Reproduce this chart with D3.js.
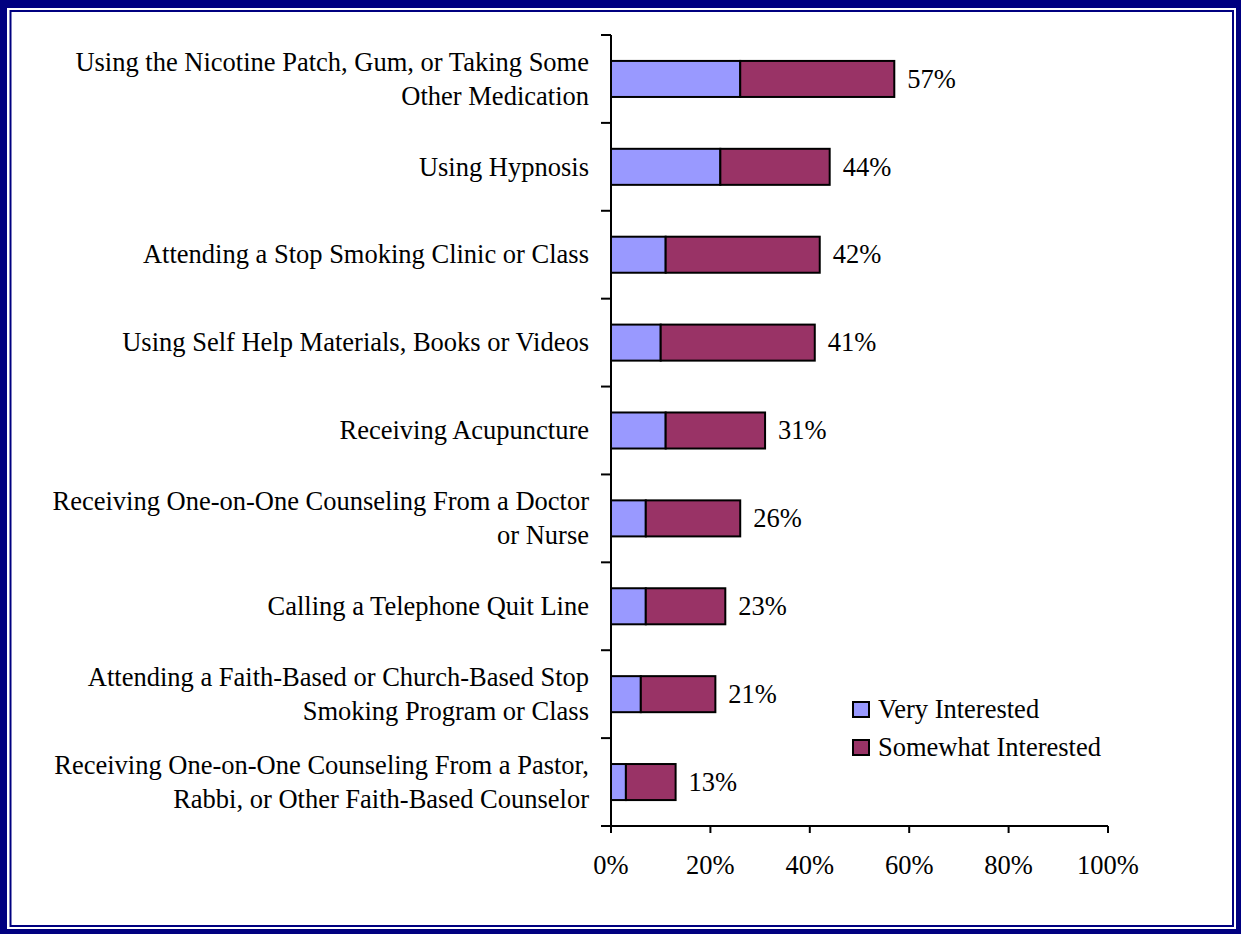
<!DOCTYPE html>
<html>
<head>
<meta charset="utf-8">
<script src="https://cdn.jsdelivr.net/npm/d3@7"></script>
<style>
  html, body { margin: 0; padding: 0; background: #fff; }
  svg { display: block; }
  text { font-family: "Liberation Serif", "Times New Roman", serif; fill: #000; }
</style>
</head>
<body>
<svg id="chart" width="1241" height="934"></svg>
<script>
// Interest in ways to quit smoking (percent of respondents)
const categories = [
  ["Using the Nicotine Patch, Gum, or Taking Some", "Other Medication"],
  ["Using Hypnosis"],
  ["Attending a Stop Smoking Clinic or Class"],
  ["Using Self Help Materials, Books or Videos"],
  ["Receiving Acupuncture"],
  ["Receiving One-on-One Counseling From a Doctor", "or Nurse"],
  ["Calling a Telephone Quit Line"],
  ["Attending a Faith-Based or Church-Based Stop", "Smoking Program or Class"],
  ["Receiving One-on-One Counseling From a Pastor,", "Rabbi, or Other Faith-Based Counselor"]
];
const veryInterested     = [26, 22, 11, 10, 11, 7, 7, 6, 3];
const somewhatInterested = [31, 22, 31, 31, 20, 19, 16, 15, 10];
const totalLabels        = ["57%", "44%", "42%", "41%", "31%", "26%", "23%", "21%", "13%"];
const seriesNames = ["Very Interested", "Somewhat Interested"];
const seriesColors = ["#9999FF", "#993366"];
const xTicks = [0, 20, 40, 60, 80, 100];

const svg = d3.select("#chart");
const W = 1241, H = 934;

// frame: heavy navy outer edge with a thin navy rule inside
svg.append("rect").attr("x", 0).attr("y", 0).attr("width", W).attr("height", H).attr("fill", "#000080");
svg.append("rect").attr("x", 7).attr("y", 8).attr("width", W - 12).attr("height", H - 13).attr("fill", "#fff");
svg.append("rect").attr("x", 10.5).attr("y", 11).attr("width", 1222.5).attr("height", 915)
  .attr("fill", "none").attr("stroke", "#000080").attr("stroke-width", 2);

const plot = { left: 611, right: 1108, top: 35, bottom: 826 };
const fontSize = 26.5;

const x = d3.scaleLinear().domain([0, 100]).range([plot.left, plot.right]);
const idx = d3.range(categories.length);
const y = d3.scaleBand().domain(idx).range([plot.top, plot.bottom])
  .paddingInner(0.59).paddingOuter(0.295);
const step = y.step();

// stacked bars
const rows = idx.map(i => ({ i, v: veryInterested[i], s: somewhatInterested[i] }));
const stack = d3.stack().keys(["v", "s"]);
const layers = stack(rows);

const g = svg.append("g");
layers.forEach((layer, k) => {
  g.selectAll(null).data(layer).enter().append("rect")
    .attr("x", d => x(d[0]))
    .attr("y", d => y(d.data.i))
    .attr("width", d => x(d[1]) - x(d[0]))
    .attr("height", y.bandwidth())
    .attr("fill", seriesColors[k])
    .attr("stroke", "#000")
    .attr("stroke-width", 2);
});

// total labels at bar ends
g.selectAll(null).data(rows).enter().append("text")
  .attr("x", d => x(d.v + d.s) + 13)
  .attr("y", d => y(d.i) + y.bandwidth() / 2 + fontSize * 0.33)
  .attr("font-size", fontSize)
  .text(d => totalLabels[d.i]);

// category axis: line plus ticks on band boundaries
const boundaries = idx.map(i => y(i) - y.paddingInner() * step / 2).concat([plot.bottom]);
svg.append("line").attr("x1", plot.left).attr("x2", plot.left)
  .attr("y1", plot.top).attr("y2", plot.bottom + 7)
  .attr("stroke", "#000").attr("stroke-width", 2);
svg.selectAll(null).data(boundaries).enter().append("line")
  .attr("x1", plot.left - 10).attr("x2", plot.left)
  .attr("y1", d => d).attr("y2", d => d)
  .attr("stroke", "#000").attr("stroke-width", 2);

// category labels, right aligned, wrapped lines centred on the band
const lineH = 34;
idx.forEach(i => {
  const lines = categories[i];
  const cy = y(i) + y.bandwidth() / 2;
  const t = svg.append("text").attr("text-anchor", "end").attr("font-size", fontSize);
  lines.forEach((ln, j) => {
    t.append("tspan")
      .attr("x", plot.left - 22)
      .attr("y", cy + (j - (lines.length - 1) / 2) * lineH + fontSize * 0.33)
      .text(ln);
  });
});

// value axis
svg.append("line").attr("x1", plot.left).attr("x2", plot.right)
  .attr("y1", plot.bottom).attr("y2", plot.bottom)
  .attr("stroke", "#000").attr("stroke-width", 2);
svg.selectAll(null).data(xTicks).enter().append("line")
  .attr("x1", d => x(d)).attr("x2", d => x(d))
  .attr("y1", plot.bottom).attr("y2", plot.bottom + 7)
  .attr("stroke", "#000").attr("stroke-width", 2);
svg.selectAll(null).data(xTicks).enter().append("text")
  .attr("x", d => x(d)).attr("y", plot.bottom + 48)
  .attr("text-anchor", "middle").attr("font-size", fontSize)
  .text(d => d + "%");

// legend
const legend = svg.append("g").attr("transform", "translate(853,702)");
seriesNames.forEach((name, k) => {
  const row = legend.append("g").attr("transform", `translate(0,${k * 38})`);
  row.append("rect").attr("x", 0).attr("y", 0).attr("width", 16).attr("height", 15)
    .attr("fill", seriesColors[k]).attr("stroke", "#000").attr("stroke-width", 2);
  row.append("text").attr("x", 25).attr("y", 7.5 + fontSize * 0.33)
    .attr("font-size", fontSize).text(name);
});
</script>
</body>
</html>
